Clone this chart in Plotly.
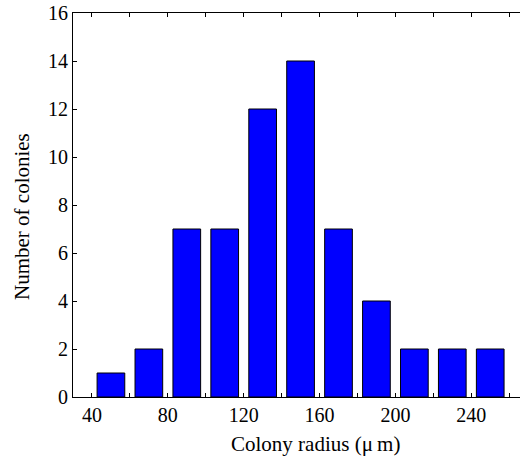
import plotly.graph_objects as go

radius_centers = [50, 70, 90, 110, 130, 150, 170, 190, 210, 230, 250]
colony_counts = [1, 2, 7, 7, 12, 14, 7, 4, 2, 2, 2]
x_tick_vals = [40, 60, 80, 100, 120, 140, 160, 180, 200, 220, 240, 260]
x_tick_text = ["40", "", "80", "", "120", "", "160", "", "200", "", "240", ""]
y_tick_vals = [0, 2, 4, 6, 8, 10, 12, 14, 16]

FONT = "Liberation Serif"

fig = go.Figure()
fig.add_trace(go.Bar(
    x=radius_centers, y=colony_counts, width=14.6,
    marker=dict(color="#0000FF", line=dict(color="black", width=1)),
))

fig.update_layout(
    width=520, height=465,
    margin=dict(l=73, r=0, t=13, b=68),
    plot_bgcolor="white", paper_bgcolor="white",
    showlegend=False,
    font=dict(family=FONT, size=20, color="black"),
    annotations=[
        dict(text="Colony radius (\u03bc\u2009m)", xref="paper", yref="paper",
             x=(315 - 73) / 447, y=-(444 - 397) / 384, xanchor="center", yanchor="middle",
             showarrow=False, font=dict(family=FONT, size=21)),
        dict(text="Number of colonies", xref="paper", yref="paper",
             x=-(73 - 22) / 447, y=1 - (217 - 13) / 384, xanchor="center", yanchor="middle",
             textangle=-90, showarrow=False, font=dict(family=FONT, size=21)),
    ],
)
fig.update_xaxes(
    range=[30, 40 + (520 - 92.3) / 1.895],
    tickvals=x_tick_vals, ticktext=x_tick_text,
    ticks="inside", ticklen=4, tickcolor="black",
    showline=True, linecolor="black", linewidth=1, mirror="ticks",
    showgrid=False, zeroline=False,
    tickfont=dict(family=FONT, size=20),
)
fig.update_yaxes(
    range=[0, 16], tickvals=y_tick_vals,
    ticks="inside", ticklen=4, tickcolor="black",
    showline=True, linecolor="black", linewidth=1, mirror=False,
    showgrid=False, zeroline=False,
    tickfont=dict(family=FONT, size=20),
)

fig.write_html("out.html", config={"displayModeBar": False},
               post_script="document.body.style.margin='0';")
